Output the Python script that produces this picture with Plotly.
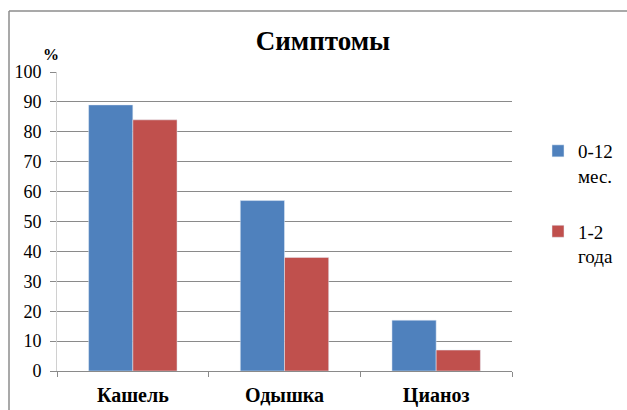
import plotly.graph_objects as go

# Symptom frequency by age group, %
categories = ["Кашель", "Одышка", "Цианоз"]
series_names = ["0-12<br>мес.", "1-2<br>года"]
values_0_12 = [89, 57, 17]
values_1_2 = [84, 38, 7]
colors = ["#4f81bd", "#c0504d"]

W, H = 627, 410
L, R, T, B = 57, 115, 72, 39
plot_w = W - L - R
plot_h = H - T - B

def px_x(px):
    return (px - L) / plot_w

def px_y(py):
    return (H - B - py) / plot_h

SERIF = "Liberation Serif"

fig = go.Figure()
for i, (name, vals, c) in enumerate(zip(series_names, [values_0_12, values_1_2], colors)):
    fig.add_trace(go.Bar(x=categories, y=vals, name=name, legendgroup=f"g{i}", marker_color=c))

fig.update_layout(
    width=W, height=H,
    margin=dict(l=L, r=R, t=T, b=B, autoexpand=False),
    paper_bgcolor="white", plot_bgcolor="white",
    barmode="group", bargap=0.417, bargroupgap=0,
    showlegend=True,
    title=dict(
        text="<b>Симптомы</b>",
        font=dict(family=SERIF, size=27, color="black"),
        x=px_x(323), xref="paper", xanchor="center",
        y=1 - 41 / H, yref="container", yanchor="middle",
    ),
    legend=dict(
        x=px_x(538), y=px_y(132), xanchor="left", yanchor="top",
        font=dict(family=SERIF, size=19, color="black"),
        valign="top", tracegroupgap=28,
    ),
)

fig.update_yaxes(
    range=[0, 100], dtick=10,
    showgrid=True, gridcolor="#8a8a8a",
    showline=True, linecolor="#d0d0d0",
    ticks="outside", ticklen=6, tickcolor="#8a8a8a",
    tickfont=dict(family=SERIF, size=18, color="black"),
    ticklabelstandoff=5,
)
fig.update_xaxes(
    showline=True, linecolor="#8a8a8a",
    ticks="outside", ticklen=5, tickcolor="#8a8a8a", tickson="boundaries",
    tickfont=dict(family=SERIF, size=20, color="black", weight="bold"),
    ticklabelstandoff=6,
)

# percent sign above the value axis
fig.add_annotation(
    text="<b>%</b>", x=px_x(51), y=px_y(54), xref="paper", yref="paper",
    showarrow=False, xanchor="center", yanchor="middle",
    font=dict(family=SERIF, size=16, color="black"),
)

# chart frame (top and left edges)
frame = dict(color="#8c8c8c", width=1.5)
fig.add_shape(type="line", xref="paper", yref="paper",
              x0=px_x(9), x1=px_x(W + 10), y0=px_y(11), y1=px_y(11), line=frame)
fig.add_shape(type="line", xref="paper", yref="paper",
              x0=px_x(9), x1=px_x(9), y0=px_y(11), y1=px_y(H + 10), line=frame)

fig.write_html("out.html")
